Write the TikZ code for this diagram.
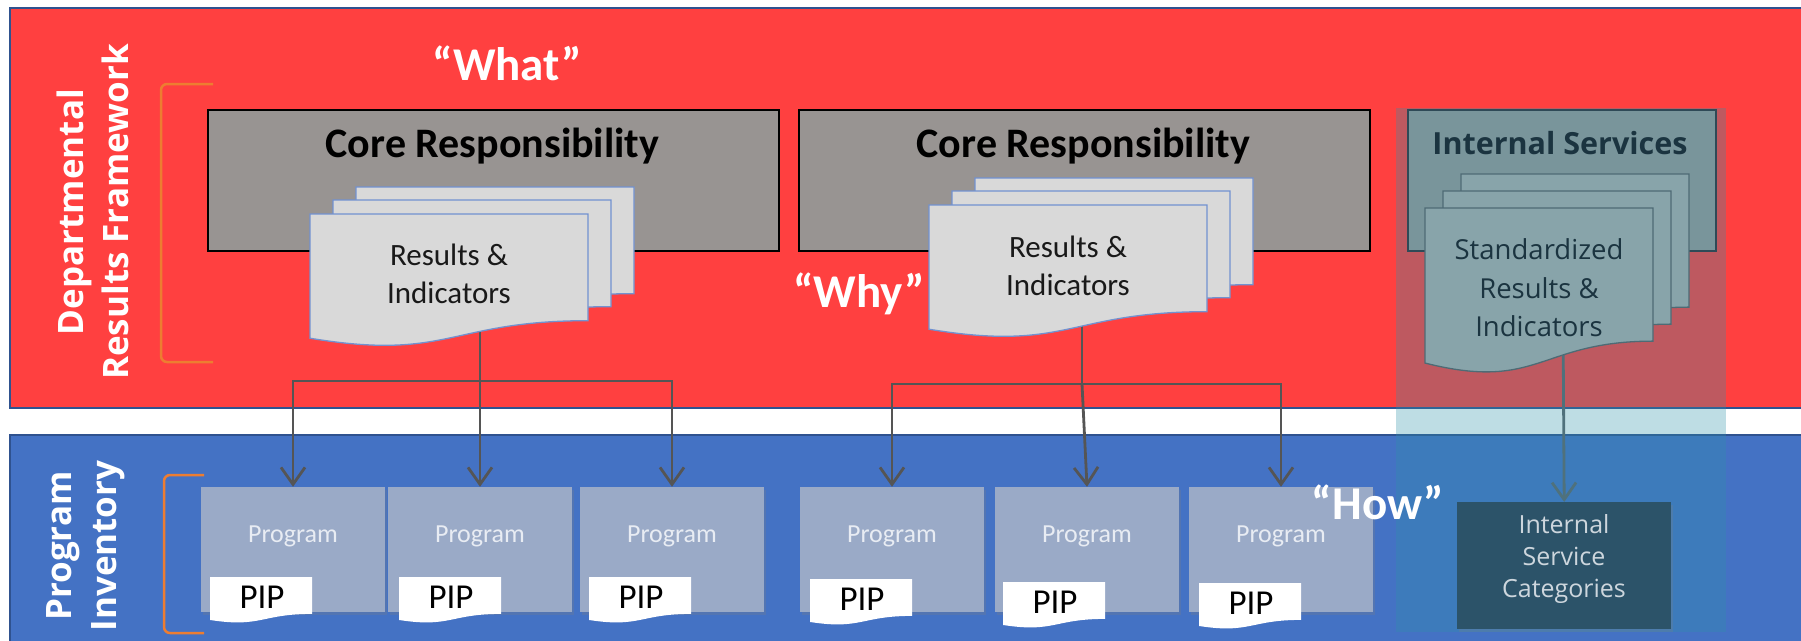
\documentclass[tikz,border=0pt]{standalone}
\usepackage{fontspec}
\setmainfont{Carlito}
\newfontfamily\uifont{Open Sans}
\usetikzlibrary{arrows.meta,shadows}

\definecolor{bandred}{RGB}{255,64,64}
\definecolor{bandblue}{RGB}{68,114,196}
\definecolor{bandedge}{RGB}{47,82,143}
\definecolor{coregray}{RGB}{152,148,146}
\definecolor{sheetgray}{RGB}{217,217,217}
\definecolor{sheetedge}{RGB}{114,146,208}
\definecolor{istitle}{RGB}{27,52,64}
\definecolor{isbox}{RGB}{121,149,155}
\definecolor{isedge}{RGB}{47,74,87}
\definecolor{issheet}{RGB}{136,164,170}
\definecolor{issheetedge}{RGB}{78,107,117}
\definecolor{veil}{RGB}{48,146,170}
\definecolor{progfill}{RGB}{154,170,199}
\definecolor{progtext}{RGB}{232,236,243}
\definecolor{catfill}{RGB}{44,83,105}
\definecolor{cattext}{RGB}{205,214,221}
\definecolor{linkgray}{RGB}{85,85,85}
\definecolor{linkteal}{RGB}{79,113,124}
\definecolor{bracketorange}{RGB}{237,125,49}

\tikzset{
  pics/sheet/.style args={#1/#2}{code={
    \path[pic actions] (0,0) -- (#1,0) -- (#1,{0.802*#2})
      .. controls ({0.5*#1},{0.802*#2}) and ({0.5*#1},{1.1075*#2}) .. (0,{0.934*#2}) -- cycle;}},
  band/.style={draw=bandedge, line width=1.5pt},
  corebox/.style={draw=black, line width=1.8pt, fill=coregray, anchor=north west,
    minimum width=571pt, minimum height=141pt, inner sep=0pt},
  isbox/.style={draw=isedge, line width=1.5pt, fill=isbox, anchor=north west,
    minimum width=308pt, minimum height=141pt, inner sep=0pt},
  coretitle/.style={font=\bfseries\fontsize{42}{50}\selectfont, text=black},
  istitle/.style={font=\uifont\bfseries\fontsize{30.5}{36}\selectfont, text=istitle},
  paper/.style={fill=sheetgray, draw=sheetedge, line width=1.3pt,
    drop shadow={opacity=0.3, shadow xshift=2pt, shadow yshift=-5pt}},
  ispaper/.style={fill=issheet, draw=issheetedge, line width=1.3pt,
    drop shadow={opacity=0.3, shadow xshift=2pt, shadow yshift=-5pt}},
  tag/.style={fill=white},
  papertext/.style={font=\fontsize{31}{38.5}\selectfont, align=center, text=black!90},
  ispapertext/.style={font=\uifont\fontsize{27.5}{38.5}\selectfont, align=center, text=istitle},
  quote/.style={font=\bfseries\fontsize{47}{56}\selectfont, text=white},
  sidelabel/.style={font=\uifont\bfseries\fontsize{35}{45}\selectfont, text=white,
    rotate=90, align=center},
  brace/.style={draw=bracketorange, line width=2.5pt, rounded corners=6pt},
  prog/.style={fill=progfill, minimum width=184pt, minimum height=125pt, inner sep=0pt,
    drop shadow={opacity=0.25, shadow xshift=2pt, shadow yshift=-3pt}},
  progtext/.style={font=\fontsize{26}{30}\selectfont, text=progtext},
  piptext/.style={font=\fontsize{35}{40}\selectfont, text=black},
  catbox/.style={fill=catfill, anchor=north west, minimum width=214pt,
    minimum height=127pt, inner sep=0pt,
    drop shadow={opacity=0.25, shadow xshift=2pt, shadow yshift=-3pt}},
  cattext/.style={font=\uifont\fontsize{25}{32}\selectfont, align=center, text=cattext},
  link/.style={draw=linkgray, line width=2.8pt,
    -{Straight Barb[length=17pt, width=24pt, line width=2.8pt]}},
  linkplain/.style={draw=linkgray, line width=2.8pt},
  islink/.style={draw=linkteal, line width=2.8pt,
    -{Straight Barb[length=17pt, width=24pt, line width=2.8pt]}}
}

\begin{document}
\begin{tikzpicture}[x=1pt, y=-1pt]
\useasboundingbox (0,0) rectangle (1801,640);
\fill[white] (0,0) rectangle (1801,640);

% the two horizontal bands
\draw[band, fill=bandred] (10,8) rectangle (1808,408);
\draw[band, fill=bandblue] (10,435) rectangle (1808,648);

% translucent column behind the internal services
\fill[veil, fill opacity=0.31] (1396,108) rectangle (1726,632);

% side labels and their brackets
\node[sidelabel] (drf) at (93,212) {Departmental\\Results Framework};
\node[sidelabel] (pinv) at (86,546) {Program\\Inventory};
\draw[brace] (213,84) -- (161,84) -- (161,362) -- (213,362);
\draw[brace] (204,475) -- (164,475) -- (164,633) -- (204,633);

% core responsibilities and internal services
\node[corebox] (coreA) at (207,109) {};
\node[corebox] (coreB) at (798,109) {};
\node[isbox] (isv) at (1407,109) {};
\node[coretitle] (coreAt) at (492.5,146) {Core Responsibility};
\node[coretitle] (coreBt) at (1083.5,146) {Core Responsibility};
\node[istitle] (isvt) at (1560,143) {Internal Services};

% program inventory
\node[prog] (p1) at (293,549.5) {};
\node[prog] (p2) at (480,549.5) {};
\node[prog] (p3) at (672,549.5) {};
\node[prog] (p4) at (892,549.5) {};
\node[prog] (p5) at (1087,549.5) {};
\node[prog] (p6) at (1281,549.5) {};
\node[catbox] (cat) at (1457,502) {};

% connectors from the results to the programs
\coordinate (footA) at (480,300);
\coordinate (hubA) at (480,381);
\coordinate (footB) at (1082,300);
\coordinate (hubB) at (1082,384);
\coordinate (footC) at (1563,320);
\draw[linkplain] (footA) -- (hubA);
\draw[link] (hubA) -| (p1.north);
\draw[link] (hubA) -- (p2.north);
\draw[link] (hubA) -| (p3.north);
\draw[linkplain] (footB) -- (hubB);
\draw[link] (hubB) -| (p4.north);
\draw[link] (hubB) -- (p5.north);
\draw[link] (hubB) -| (p6.north);
\draw[islink] (footC) -- (cat.north);

% stacks of result sheets
\pic[paper] at (356,187) {sheet=278/133};
\pic[paper] at (333,200) {sheet=278/133};
\pic[paper] at (310,214) {sheet=278/133};
\pic[paper] at (975,178) {sheet=278/133};
\pic[paper] at (952,191) {sheet=278/133};
\pic[paper] at (929,205) {sheet=278/133};
\pic[ispaper] at (1461,174) {sheet=228/166};
\pic[ispaper] at (1443,191) {sheet=228/166};
\pic[ispaper] at (1425,208) {sheet=228/166};
\node[papertext] (resA) at (449,274) {Results \&\\Indicators};
\node[papertext] (resB) at (1068,266) {Results \&\\Indicators};
\node[ispapertext] (resC) at (1539,288) {Standardized\\Results \&\\Indicators};

% PIP tags
\pic[tag] at (210,577) {sheet=102/46};
\pic[tag] at (399,577) {sheet=102/46};
\pic[tag] at (589,577) {sheet=102/46};
\pic[tag] at (810,579) {sheet=102/46};
\pic[tag] at (1003,582) {sheet=102/46};
\pic[tag] at (1199,583) {sheet=102/46};
\node[piptext] (pip1) at (262,597) {PIP};
\node[piptext] (pip2) at (451,597) {PIP};
\node[piptext] (pip3) at (641,597) {PIP};
\node[piptext] (pip4) at (862,599) {PIP};
\node[piptext] (pip5) at (1055,602) {PIP};
\node[piptext] (pip6) at (1251,603) {PIP};

% program labels
\node[progtext] (p1t) at (293,536) {Program};
\node[progtext] (p2t) at (480,536) {Program};
\node[progtext] (p3t) at (672,536) {Program};
\node[progtext] (p4t) at (892,536) {Program};
\node[progtext] (p5t) at (1087,536) {Program};
\node[progtext] (p6t) at (1281,536) {Program};
\node[cattext] (catt) at (1564,559) {Internal\\Service\\Categories};

% the three questions
\node[quote] (what) at (507,63) {“What”};
\node[quote] (why) at (859,294) {“Why”};
\node[quote] (how) at (1378,502) {“How”};
\end{tikzpicture}
\end{document}
